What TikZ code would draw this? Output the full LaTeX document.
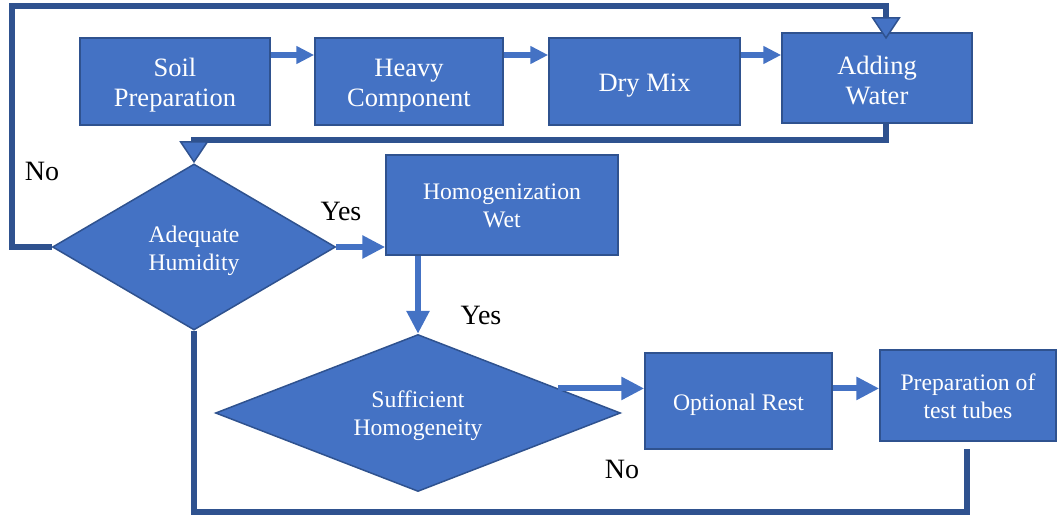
\documentclass[tikz,border=0pt]{standalone}
\usepackage{fontspec}
\setmainfont{Liberation Serif}
\usetikzlibrary{shapes.geometric,arrows.meta,calc}
\definecolor{bfill}{HTML}{4472C4}
\definecolor{bdark}{HTML}{2F528F}
\begin{document}
\begin{tikzpicture}[x=1pt,y=-1pt,
 pbox/.style={draw=bdark,fill=bfill,line width=1.5pt,rectangle,inner sep=0pt},
 txt/.style={inner sep=0pt,text=white,align=center},
 bigtext/.style={txt,font=\fontsize{26.5}{30}\selectfont},
 smtext/.style={txt,font=\fontsize{23.7}{28}\selectfont},
 dia/.style={draw=bdark,fill=bfill,line width=1.5pt,diamond,aspect=2,inner sep=0pt},
 flowarr/.style={draw=bfill,line width=6pt,-{Triangle[length=23pt,width=22pt]}},
 smallarr/.style={draw=bfill,line width=6pt,-{Triangle[length=18pt,width=17pt]}},
 loopline/.style={draw=bdark,line width=6pt,line join=miter},
 looparr/.style={loopline,-{Triangle[length=22pt,width=29pt,fill=bfill,line width=1.5pt]}},
 lab/.style={font=\fontsize{28}{32}\selectfont,inner sep=0pt}]
\useasboundingbox (0,0) rectangle (1057,516);
% shapes
\node[pbox,minimum width=190pt,minimum height=87pt] (soil) at (175,81.5) {};
\node[pbox,minimum width=188pt,minimum height=87pt] (heavy) at (409,81.5) {};
\node[pbox,minimum width=191pt,minimum height=87pt] (dry) at (644.5,81.5) {};
\node[pbox,minimum width=190pt,minimum height=90pt] (add) at (877,78) {};
\node[dia,minimum width=283pt,minimum height=166pt] (adeq) at (194,247) {};
\node[pbox,minimum width=232pt,minimum height=100pt] (homog) at (502,205) {};
\node[dia,minimum width=405pt,minimum height=157pt] (suff) at (418,413) {};
\node[pbox,minimum width=187pt,minimum height=96pt] (rest) at (738.5,401) {};
\node[pbox,minimum width=176pt,minimum height=91pt] (prep) at (968,395.5) {};
% texts
\node[bigtext] (soilt) at ([yshift=-4pt]soil.center) {Soil\\Preparation};
\node[bigtext] (heavyt) at ([yshift=-4pt]heavy.center) {Heavy\\Component};
\node[bigtext] (dryt) at ([yshift=-4pt]dry.center) {Dry Mix};
\node[bigtext] (addt) at ([yshift=-3pt]add.center) {Adding\\Water};
\node[smtext] (adeqt) at ([yshift=-4pt]adeq.center) {Adequate\\Humidity};
\node[smtext] (homogt) at ([yshift=-1pt]homog.center) {Homogenization\\Wet};
\node[smtext] (sufft) at ([yshift=-3pt]suff.center) {Sufficient\\Homogeneity};
\node[smtext] (restt) at ([yshift=-4pt]rest.center) {Optional Rest};
\node[smtext] (prept) at ([yshift=-1pt]prep.center) {Preparation of\\test tubes};
% labels
\node[lab] (no1) at (42,171) {No};
\node[lab] (yes1) at (341,211) {Yes};
\node[lab] (yes2) at (481,315) {Yes};
\node[lab] (no2) at (622,469) {No};
% helper coordinates
\coordinate (ya) at (0,55);
\coordinate (ctl) at (12,6.5);
\coordinate (r1) at (886,140);
\coordinate (b1) at (967,512);
\coordinate (b0) at (967,449);
% flow arrows
\draw[smallarr] (soil.east |- ya) -- (heavy.west |- ya);
\draw[smallarr] (heavy.east |- ya) -- (dry.west |- ya);
\draw[smallarr] (dry.east |- ya) -- (add.west |- ya);
\draw[flowarr] (adeq.east) -- (homog.west |- adeq.east);
\draw[flowarr] (suff.north |- homog.south) -- (suff.north);
\coordinate (sx) at ($(suff.north)!0.69!(suff.east)$);
\draw[flowarr] (sx) -- (rest.west |- sx);
\draw[flowarr] (rest.east |- sx) -- (prep.west |- sx);
% loops
\draw[looparr] (adeq.west) -| (ctl) -| ([yshift=-7pt]add.north -| r1);
\draw[looparr] (r1 |- add.south) -- (r1) -| (adeq.north);
\draw[loopline] (adeq.south) |- (b1) -- (b0);
\end{tikzpicture}
\end{document}
